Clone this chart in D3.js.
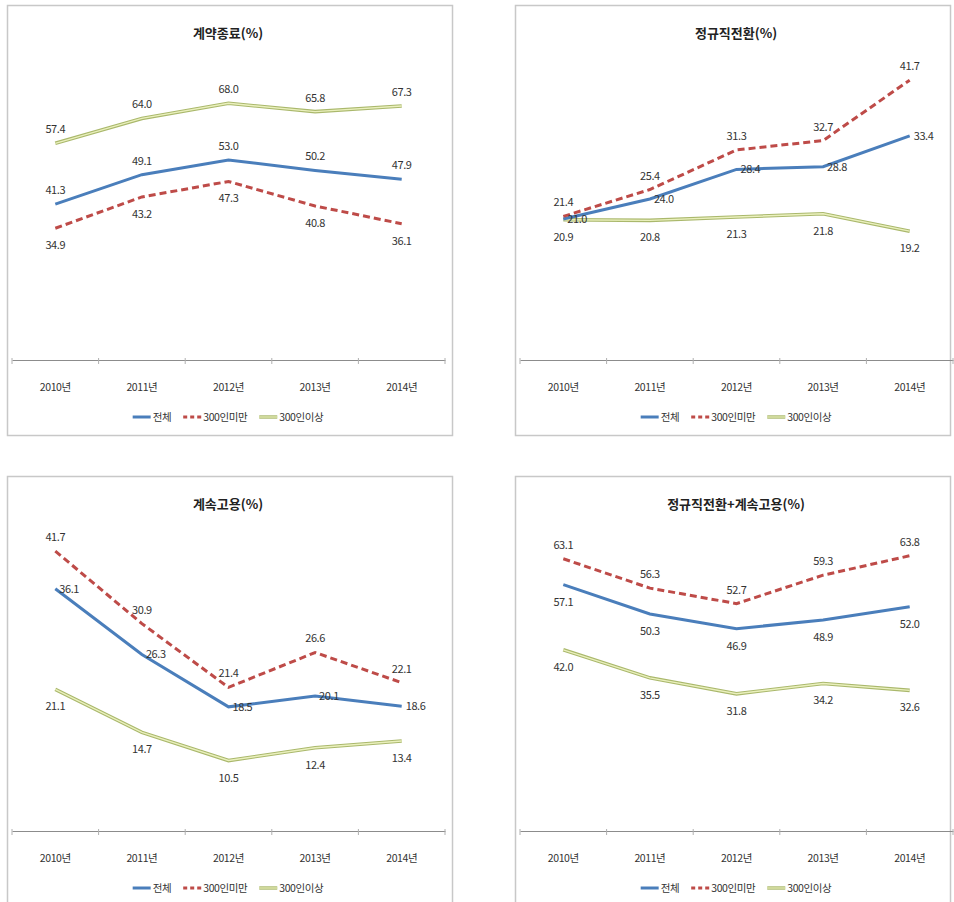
<!DOCTYPE html>
<html>
<head>
<meta charset="utf-8">
<script src="https://cdn.jsdelivr.net/npm/d3@7"></script>
<style>
body { margin: 0; background: #fff; }
svg { display: block; font-family: "Noto Sans CJK KR", "Noto Sans", sans-serif; }
</style>
</head>
<body>
<svg id="chart" width="954" height="902"></svg>
<script>
const years = ['2010년', '2011년', '2012년', '2013년', '2014년'];
const seriesNames = ['전체', '300인미만', '300인이상'];
const panelTitles = ['계약종료(%)', '정규직전환(%)', '계속고용(%)', '정규직전환+계속고용(%)'];
const yMax = [80, 45, 45, 70];

// 계약종료
const endTotal = [41.3, 49.1, 53.0, 50.2, 47.9],
	endSmall = [34.9, 43.2, 47.3, 40.8, 36.1],
	endLarge = [57.4, 64.0, 68.0, 65.8, 67.3];
// 정규직전환
const convTotal = [21.0, 24.0, 28.4, 28.8, 33.4],
	convSmall = [21.4, 25.4, 31.3, 32.7, 41.7],
	convLarge = [20.9, 20.8, 21.3, 21.8, 19.2];
// 계속고용
const contTotal = [36.1, 26.3, 18.5, 20.1, 18.6],
	contSmall = [41.7, 30.9, 21.4, 26.6, 22.1],
	contLarge = [21.1, 14.7, 10.5, 12.4, 13.4];
// 정규직전환+계속고용
const sumTotal = [57.1, 50.3, 46.9, 48.9, 52.0],
	sumSmall = [63.1, 56.3, 52.7, 59.3, 63.8],
	sumLarge = [42.0, 35.5, 31.8, 34.2, 32.6];

const panelData = [
	[endTotal, endSmall, endLarge],
	[convTotal, convSmall, convLarge],
	[contTotal, contSmall, contLarge],
	[sumTotal, sumSmall, sumLarge]
];

// where the value labels sit for each series: a = above, b = below, r = right
const labelPos = [['a', 'b', 'a'], ['r', 'a', 'b'], ['r', 'a', 'b'], ['b', 'a', 'b']];

// panel frames
const frames = [
	{left: 7, top: 5, width: 445, height: 430},
	{left: 515, top: 5, width: 435, height: 430},
	{left: 7, top: 476, width: 445, height: 440},
	{left: 515, top: 476, width: 435, height: 440}
];

const BLUE = '#4a7ebb', RED = '#be4b48', OLIVE_OUT = '#aab86c', OLIVE_IN = '#eaf0bd';

const svg = d3.select('#chart');

frames.forEach((f, i) => drawPanel(svg.append('g'), f, i));

function drawPanel(g, f, i) {
	g.append('rect')
		.attr('x', f.left + 0.5)
		.attr('y', f.top + 0.5)
		.attr('width', f.width)
		.attr('height', f.height)
		.attr('fill', '#fff')
		.attr('stroke', '#c8c8c8')
		.attr('stroke-width', 1.5);

	const axisY = f.top + 355,
		plotTop = f.top + 53,
		cx = f.left + 221;

	const x = d3.scaleBand().domain(years).range([f.left + 5, f.left + 438]);
	const y = d3.scaleLinear().domain([0, yMax[i]]).range([axisY, plotTop]);
	const px = d => x(d) + x.bandwidth() / 2;

	g.append('text')
		.attr('x', cx)
		.attr('y', f.top + 33)
		.attr('text-anchor', 'middle')
		.attr('font-size', 13)
		.attr('font-weight', 'bold')
		.attr('fill', '#222')
		.text(panelTitles[i]);

	// category axis
	const ax = g.append('g').attr('transform', `translate(0,${axisY})`)
		.call(d3.axisBottom(x).tickSize(0).tickFormat(''));
	ax.select('.domain').attr('stroke', '#8c8c8c').attr('stroke-width', 1.2);
	const bounds = x.domain().map(d => x(d)).concat([x.range()[1]]);
	g.selectAll('line.tick-mark').data(bounds).join('line')
		.attr('class', 'tick-mark')
		.attr('x1', d => d).attr('x2', d => d)
		.attr('y1', axisY - 2).attr('y2', axisY + 4)
		.attr('stroke', '#b0b0b0');
	g.selectAll('text.year').data(years).join('text')
		.attr('class', 'year')
		.attr('x', d => px(d))
		.attr('y', axisY + 31)
		.attr('text-anchor', 'middle')
		.attr('font-size', 10.5)
		.attr('fill', '#333')
		.attr('letter-spacing', -0.4)
		.text(d => d);

	const line = d3.line().x((d, k) => px(years[k])).y(d => y(d));
	const [tot, small, large] = panelData[i];

	g.append('path').datum(large).attr('d', line)
		.attr('fill', 'none').attr('stroke', OLIVE_OUT).attr('stroke-width', 3.6);
	g.append('path').datum(large).attr('d', line)
		.attr('fill', 'none').attr('stroke', OLIVE_IN).attr('stroke-width', 1.4);
	g.append('path').datum(tot).attr('d', line)
		.attr('fill', 'none').attr('stroke', BLUE).attr('stroke-width', 3);
	g.append('path').datum(small).attr('d', line)
		.attr('fill', 'none').attr('stroke', RED).attr('stroke-width', 3)
		.attr('stroke-dasharray', '7,4');

	// value labels
	panelData[i].forEach((vals, s) => {
		const pos = labelPos[i][s];
		g.selectAll(null).data(vals).join('text')
			.attr('x', (d, k) => px(years[k]) + (pos === 'r' ? 4 : 0))
			.attr('y', d => y(d) + (pos === 'a' ? -10 : pos === 'b' ? 21 : 4))
			.attr('text-anchor', pos === 'r' ? 'start' : 'middle')
			.attr('font-size', 11)
			.attr('letter-spacing', -0.4)
			.attr('fill', '#333')
			.text(d => d.toFixed(1));
	});

	// legend
	const lg = g.append('g');
	let off = 0;
	seriesNames.forEach((name, s) => {
		const item = lg.append('g').attr('transform', `translate(${off},0)`);
		if (s === 2) {
			item.append('line').attr('x1', 0).attr('x2', 18).attr('y1', -4).attr('y2', -4)
				.attr('stroke', OLIVE_OUT).attr('stroke-width', 3.4);
			item.append('line').attr('x1', 0).attr('x2', 18).attr('y1', -4).attr('y2', -4)
				.attr('stroke', OLIVE_IN).attr('stroke-width', 1.2);
		} else {
			item.append('line').attr('x1', 0).attr('x2', 18).attr('y1', -4).attr('y2', -4)
				.attr('stroke', s === 0 ? BLUE : RED).attr('stroke-width', 3)
				.attr('stroke-dasharray', s === 1 ? '4,3' : null);
		}
		const t = item.append('text')
			.attr('x', 20)
			.attr('font-size', 10.5)
			.attr('letter-spacing', -0.4)
			.attr('fill', '#333')
			.text(name);
		off += 20 + t.node().getComputedTextLength() + 12;
	});
	off -= 12;
	lg.attr('transform', `translate(${cx - off / 2},${f.top + 416})`);
}
</script>
</body>
</html>
